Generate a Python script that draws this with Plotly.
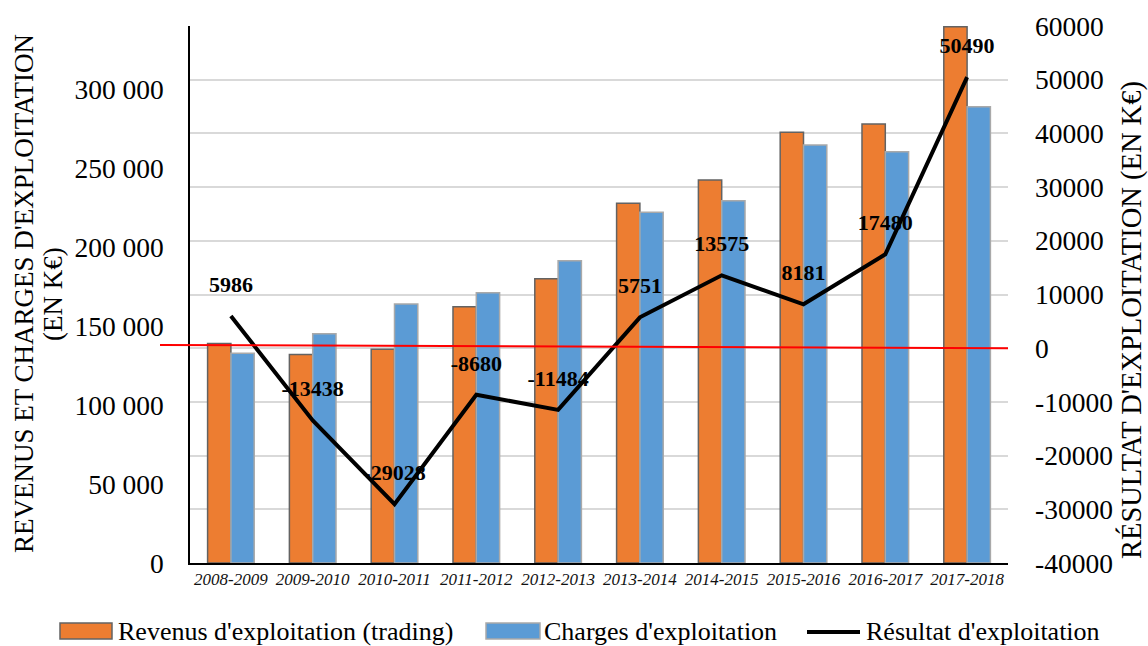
import plotly.graph_objects as go

# ---- data ----
categories = ["2008-2009", "2009-2010", "2010-2011", "2011-2012", "2012-2013",
              "2013-2014", "2014-2015", "2015-2016", "2016-2017", "2017-2018"]
revenus = [139000, 132000, 135300, 162300, 180000, 227700, 242500, 272700, 277900, 339500]
charges = [132800, 145200, 164000, 171100, 191400, 222000, 229400, 264600, 260400, 288900]
resultat = [5986, -13438, -29028, -8680, -11484, 5751, 13575, 8181, 17480, 50490]
left_tickvals = [0, 50000, 100000, 150000, 200000, 250000, 300000]
left_ticktext = ["0", "50 000", "100 000", "150 000", "200 000", "250 000", "300 000"]
right_tickvals = [-40000, -30000, -20000, -10000, 0, 10000, 20000, 30000, 40000, 50000, 60000]
right_ticktext = ["-40000", "-30000", "-20000", "-10000", "0", "10000", "20000",
                  "30000", "40000", "50000", "60000"]

SERIF = "Liberation Serif"
ORANGE = "#ED7D31"
BLUE = "#5B9BD5"

# plot area in pixels (for layout helpers)
L, R, T, B = 190, 1008, 26, 563
W_, H_ = 1148, 646


def px(x):
    return (x - L) / (R - L)


def py(y):
    return (B - y) / (B - T)


fig = go.Figure()
fig.add_trace(go.Bar(x=categories, y=revenus, name="Revenus d'exploitation (trading)",
                     marker=dict(color=ORANGE, line=dict(color="#636363", width=1.5)),
                     yaxis="y", showlegend=False))
fig.add_trace(go.Bar(x=categories, y=charges, name="Charges d'exploitation",
                     marker=dict(color=BLUE, line=dict(color="#A9A9A9", width=1.5)),
                     yaxis="y", showlegend=False))
# labels (drawn under the line)
fig.add_trace(go.Scatter(x=categories, y=resultat, mode="markers+text",
                         text=[str(v) for v in resultat], textposition="top center",
                         marker=dict(size=28, opacity=0),
                         textfont=dict(family=SERIF, size=22, color="black", weight="bold"),
                         yaxis="y2", showlegend=False, hoverinfo="skip"))
fig.add_trace(go.Scatter(x=categories, y=resultat, mode="lines", name="Résultat d'exploitation",
                         line=dict(color="black", width=4), yaxis="y2", showlegend=False))

fig.update_layout(
    template="none",
    width=W_, height=H_,
    margin=dict(l=L, r=W_ - R, t=T, b=H_ - B, autoexpand=False),
    paper_bgcolor="white", plot_bgcolor="white",
    barmode="group", bargap=0.43, bargroupgap=0,
    font=dict(family=SERIF, color="black"),
    xaxis=dict(type="category", range=[-0.5, len(categories) - 0.5],
               showline=True, linecolor="black", linewidth=1.5,
               ticks="", tickfont=dict(family=SERIF, size=17, style="italic", color="#111"),
               showgrid=False, automargin=False),
    yaxis=dict(range=[0, 340000], tickvals=left_tickvals, ticktext=left_ticktext,
               showgrid=False, showline=True, linecolor="black", linewidth=1.5,
               ticks="", ticklabelstandoff=19, tickfont=dict(family=SERIF, size=27.5),
               zeroline=False, automargin=False),
    yaxis2=dict(range=[-40000, 60000], tickvals=right_tickvals, ticktext=right_ticktext,
                overlaying="y", side="right",
                showgrid=True, gridcolor="#D9D9D9", gridwidth=1.5, zeroline=False,
                showline=False, ticks="", ticklabelstandoff=26,
                tickfont=dict(family=SERIF, size=27.5), automargin=False),
)

# zero reference line on the right axis
fig.add_shape(type="line", xref="paper", yref="y2", x0=px(160), x1=1.0, y0=600, y1=0,
              line=dict(color="#FF0000", width=2), layer="above")


def note(text, x, y, size, angle=0, xanchor="center"):
    fig.add_annotation(text=text, xref="paper", yref="paper", x=px(x), y=py(y),
                       xanchor=xanchor, yanchor="middle", textangle=angle, showarrow=False,
                       font=dict(family=SERIF, size=size, color="black"))


# axis titles
note("REVENUS ET CHARGES D'EXPLOITATION", 24, 294, 27, -90)
note("(EN K€)", 53, 294, 27, -90)
note("RÉSULTAT D'EXPLOITATION (EN K€)", 1131, 320, 28.5, -90)

# manual legend
fig.add_shape(type="rect", xref="paper", yref="paper", x0=px(60), x1=px(112), y0=py(639), y1=py(623),
              fillcolor=ORANGE, line=dict(color="#636363", width=1.5))
note("Revenus d'exploitation (trading)", 116, 631, 26, xanchor="left")
fig.add_shape(type="rect", xref="paper", yref="paper", x0=px(486), x1=px(540), y0=py(639), y1=py(623),
              fillcolor=BLUE, line=dict(color="#A9A9A9", width=1.5))
note("Charges d'exploitation", 542, 631, 26, xanchor="left")
fig.add_shape(type="line", xref="paper", yref="paper", x0=px(807), x1=px(860), y0=py(632), y1=py(632),
              line=dict(color="black", width=4))
note("Résultat d'exploitation", 864, 631, 26, xanchor="left")

fig.write_html("out.html", config={"displayModeBar": False},
               post_script="document.body.style.margin='0px';document.body.style.overflow='hidden';")
